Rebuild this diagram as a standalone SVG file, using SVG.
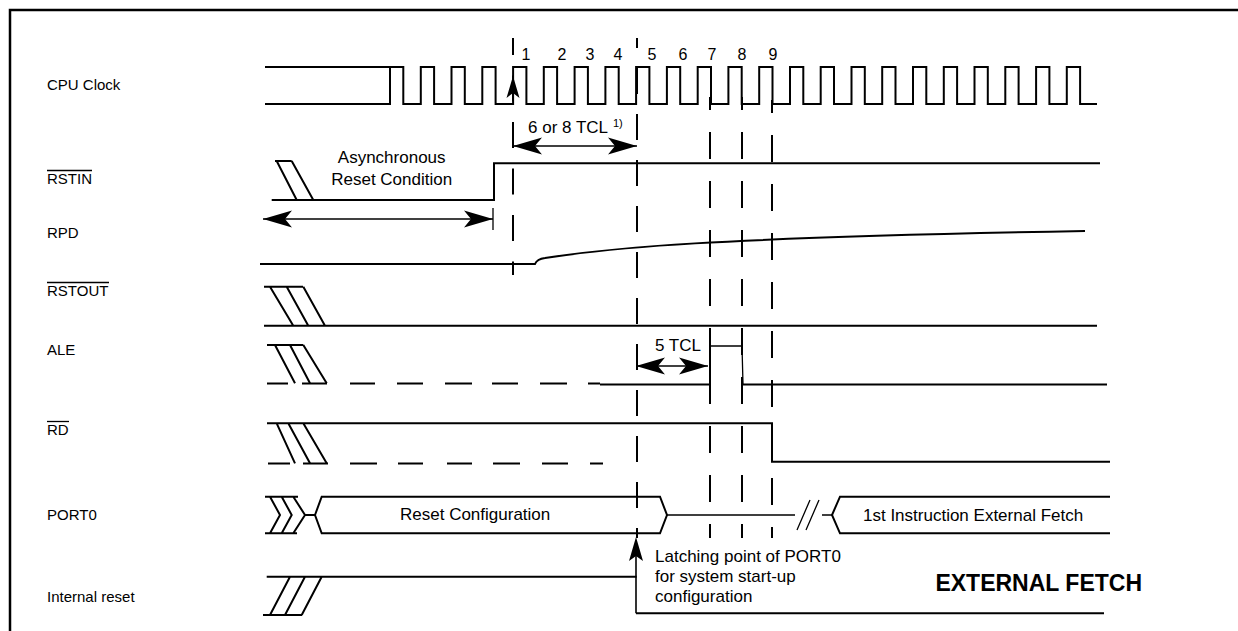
<svg xmlns="http://www.w3.org/2000/svg" width="1238" height="631" viewBox="0 0 1238 631">
<style>
.sig{stroke:#000;stroke-width:2;fill:none}
.thin{stroke:#000;stroke-width:1.3;fill:none}
.dl{stroke:#000;stroke-width:2;fill:none}
.head{fill:#000;stroke:none}
text{font-family:"Liberation Sans",Arial,Helvetica,sans-serif;font-size:17px;fill:#000}
.lbl{font-size:15px}
.num{font-size:16px;text-anchor:middle}
.sup{font-size:11px}
.big{font-size:23px;font-weight:bold;text-anchor:end}
</style>
<defs>
<marker id="ah" markerUnits="userSpaceOnUse" markerWidth="40" markerHeight="20" viewBox="-35 -10 40 20" refX="0" refY="0" orient="auto-start-reverse">
<path d="M0,0 L-29,-8.5 L-22,0 L-29,8.5 Z" fill="#000"/>
</marker>
</defs>
<rect width="1238" height="631" fill="#fff"/>
<path d="M10,631 V10 H1238" stroke="#000" stroke-width="2.5" fill="none"/>

<g id="labels">
<text class="lbl" x="47" y="90">CPU Clock</text>
<text class="lbl" x="47" y="184">RSTIN</text>
<line x1="47" y1="170.5" x2="92" y2="170.5" class="thin"/>
<text class="lbl" x="47" y="238">RPD</text>
<text class="lbl" x="47" y="296">RSTOUT</text>
<line x1="47" y1="282.5" x2="109" y2="282.5" class="thin"/>
<text class="lbl" x="47" y="355">ALE</text>
<text class="lbl" x="47" y="435">RD</text>
<line x1="47" y1="421.5" x2="69" y2="421.5" class="thin"/>
<text class="lbl" x="47" y="520">PORT0</text>
<text class="lbl" x="47" y="602">Internal reset</text>
</g>

<g id="cpu-clock">
<path class="sig" d="M265,104 H390 V67 M265,67 H403.3 V104 H420.8 V67 H434.1 V104 H451.5 V67 H464.8 V104 H482.3 V67 H495.6 V104 H513.1 V67 H526.4 V104 H543.8 V67 H557.1 V104 H574.6 V67 H587.9 V104 H605.4 V67 H618.7 V104 H636.1 V67 H649.4 V104 H666.9 V67 H680.2 V104 H697.7 V67 H711 V104 H728.4 V67 H741.7 V104 H759.2 V67 H772.5 V104 H790 V67 H803.3 V104 H820.7 V67 H834 V104 H851.5 V67 H864.8 V104 H882.2 V67 H895.5 V104 H913 V67 H926.3 V104 H943.8 V67 H957.1 V104 H974.5 V67 H987.8 V104 H1005.3 V67 H1018.6 V104 H1036.1 V67 H1049.4 V104 H1066.8 V67 H1080.1 V104 H1097"/>
<text class="num" x="526" y="60">1</text>
<text class="num" x="562" y="60">2</text>
<text class="num" x="590" y="60">3</text>
<text class="num" x="618" y="60">4</text>
<text class="num" x="652" y="60">5</text>
<text class="num" x="683" y="60">6</text>
<text class="num" x="712" y="60">7</text>
<text class="num" x="742" y="60">8</text>
<text class="num" x="773" y="60">9</text>
</g>

<g id="rstin">
<path class="sig" d="M275,161 H291.7 M276.7,161 L296.7,200 M291.7,161 L313.3,200 M271.7,200 H494 V163.3 H1100"/>
<text x="391.7" y="163" text-anchor="middle">Asynchronous</text>
<text x="391.7" y="185" text-anchor="middle">Reset Condition</text>
</g>

<g id="rpd">
<path class="sig" d="M260,264 H535 Q537,259 545,258 C610,248 700,238 1085,231"/>
</g>

<g id="rstout">
<path class="sig" d="M264,286.7 H303 M270,286.7 L293.3,325.7 M286.7,286.7 L308.3,325.7 M303.3,286.7 L325,325.7 M264,325.7 H1097"/>
</g>

<g id="ale">
<path class="sig" d="M267,345 H303.3 M275,345 L295,383.3 M290,345 L310,383.3 M303.3,345 L326.7,383.3"/>
<path class="sig" d="M267,383.5 H288 M302,383.5 H327 M350,383.5 H375 M397,383.5 H423 M445,383.5 H472 M492,383.5 H518 M540,383.5 H567 M588,383.5 H600"/>
<path class="sig" d="M600,384.5 H710 V346"/>
<path class="thin" d="M710,346 H742 L743,384.5"/>
<path class="sig" d="M743,384.5 H1107"/>
<text x="655" y="351">5 TCL</text>
</g>

<g id="rd">
<path class="sig" d="M267,423.3 H772 V461.7 H1110 M276.7,423.3 L295,463.3 M288.3,423.3 L310,463.3 M303.3,423.3 L326.7,463.3"/>
<path class="sig" d="M268,463.5 H290 M303,463.5 H328 M350,463.5 H377 M398,463.5 H423 M447,463.5 H472 M493,463.5 H520 M542,463.5 H568 M590,463.5 H603"/>
</g>

<g id="port0">
<path class="sig" d="M265,496.7 H298 M265,533.3 H297 M270,496.7 L280,515 L270,533.3 M281.7,496.7 L291.7,515 L281.7,533.3 M293.3,496.7 L305,515 L293.3,533.3 M305,515 H315"/>
<path class="sig" d="M315,515 L321.7,496.7 H660 L667,515 L660,533.3 H321.7 Z"/>
<path class="thin" d="M667,515 H795 M797,530 L810,500 M806,530 L819,500 M822,515 H832"/>
<path class="sig" d="M1110,496.7 H840 L832,515 L840,533.3 H1110"/>
<text x="400" y="520">Reset Configuration</text>
<text x="863" y="521">1st Instruction External Fetch</text>
</g>

<g id="internal-reset">
<path class="sig" d="M266.7,576.7 H636.7 M290,576.7 L270,615 M305,576.7 L285,615 M321.7,576.7 L301.7,615 M263,615 H302 M636,613.3 H1104"/>
<text x="655" y="562">Latching point of PORT0</text>
<text x="655" y="582">for system start-up</text>
<text x="655" y="602">configuration</text>
</g>

<g id="title">
<text class="big" x="1142" y="591">EXTERNAL FETCH</text>
</g>

<g id="connectors">
<line class="dl" x1="513" y1="38" x2="513" y2="275" stroke-dasharray="26 20.5" stroke-dashoffset="9"/>
<line class="dl" x1="637" y1="38" x2="637" y2="538" stroke-dasharray="26 20" stroke-dashoffset="16"/>
<line class="dl" x1="710" y1="97" x2="710" y2="538" stroke-dasharray="27 22" stroke-dashoffset="14"/>
<line class="dl" x1="742" y1="97" x2="742" y2="538" stroke-dasharray="27 22" stroke-dashoffset="14"/>
<line class="dl" x1="772" y1="100" x2="772" y2="538" stroke-dasharray="27 22" stroke-dashoffset="14"/>
<path class="head" d="M513,76 L506.5,98 L513,93 L519.5,98 Z"/>
<line class="thin" x1="263" y1="219" x2="493" y2="219" marker-start="url(#ah)" marker-end="url(#ah)"/>
<line class="thin" x1="493" y1="208" x2="493" y2="230"/>
<line class="thin" x1="513" y1="146" x2="637" y2="146" marker-start="url(#ah)" marker-end="url(#ah)"/>
<text x="528" y="133" font-size="17.5">6 or 8 TCL</text>
<text class="sup" x="613" y="127">1)</text>
<line class="thin" x1="636" y1="366" x2="708" y2="366" marker-start="url(#ah)" marker-end="url(#ah)"/>
<line x1="636" y1="613.3" x2="636" y2="555" stroke="#000" stroke-width="1.6"/>
<path class="head" d="M636,537 L629,561 L636,556 L643,561 Z"/>
</g>
</svg>
